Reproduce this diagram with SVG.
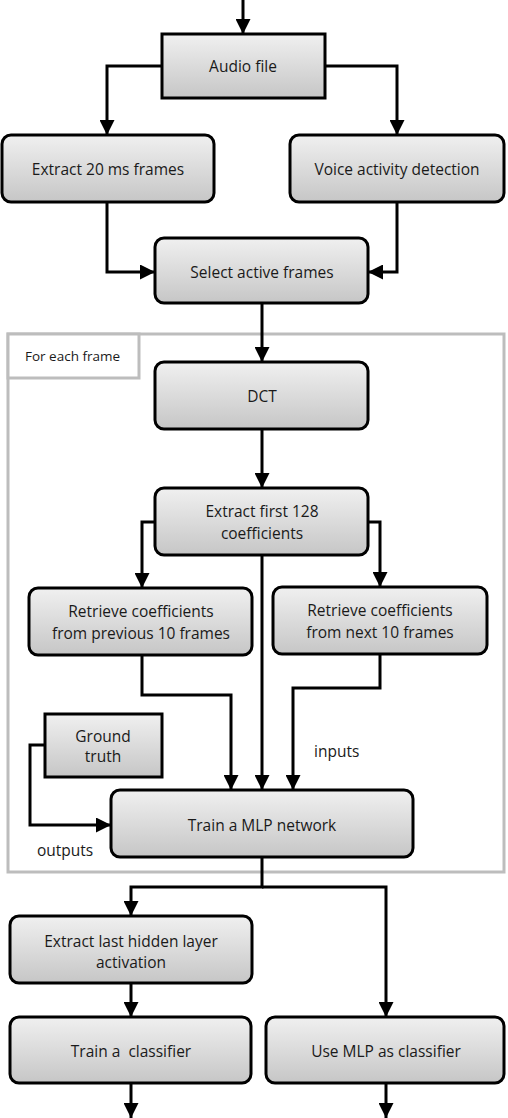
<svg xmlns="http://www.w3.org/2000/svg" width="508" height="1118" viewBox="0 0 508 1118">
<style>
.node{stroke:#000;stroke-width:3;fill:url(#g)}
.t{font-family:"Open Sans","Noto Sans",sans-serif;font-size:15.5px;fill:#1a1a1a;text-anchor:middle}
.lab{font-family:"Open Sans","Noto Sans",sans-serif;font-size:15.5px;fill:#1a1a1a}
.c{fill:none;stroke:#000;stroke-width:3}
</style>
<defs>
<linearGradient id="g" x1="0" y1="0" x2="0" y2="1">
<stop offset="0" stop-color="#f0f0f0"/>
<stop offset="1" stop-color="#c6c6c6"/>
</linearGradient>
<marker id="a" viewBox="0 0 10 10" refX="10" refY="5" markerWidth="5" markerHeight="5" orient="auto" markerUnits="strokeWidth">
<path d="M0,0 L10,5 L0,10 Z" fill="#000"/>
</marker>
</defs>
<g id="container">
<rect x="8" y="334" width="496" height="538" fill="#fff" stroke="#bdbdbd" stroke-width="3"/>
<rect x="8" y="334" width="131" height="44" fill="#fff" stroke="#bdbdbd" stroke-width="3"/>
<text class="lab" x="25" y="361" style="font-size:13.5px">For each frame</text>
</g>
<g id="connectors">
<path class="c" d="M243,0 V34" marker-end="url(#a)"/>
<path class="c" d="M162,66 H107 V135" marker-end="url(#a)"/>
<path class="c" d="M325,66 H397 V135" marker-end="url(#a)"/>
<path class="c" d="M107,202 V272 H155" marker-end="url(#a)"/>
<path class="c" d="M397,202 V272 H368" marker-end="url(#a)"/>
<path class="c" d="M262,303 V362" marker-end="url(#a)"/>
<path class="c" d="M262,429 V488" marker-end="url(#a)"/>
<path class="c" d="M155,522 H142 V588" marker-end="url(#a)"/>
<path class="c" d="M368,522 H380 V587" marker-end="url(#a)"/>
<path class="c" d="M262,555 V790" marker-end="url(#a)"/>
<path class="c" d="M142,656 V695 H231 V790" marker-end="url(#a)"/>
<path class="c" d="M380,655 V688 H293 V790" marker-end="url(#a)"/>
<path class="c" d="M45,745 H30 V825 H111" marker-end="url(#a)"/>
<path class="c" d="M262,857 V887 H131 V916" marker-end="url(#a)"/>
<path class="c" d="M262,887 H386 V1017" marker-end="url(#a)"/>
<path class="c" d="M131,983 V1017" marker-end="url(#a)"/>
<path class="c" d="M131,1083 V1118" marker-end="url(#a)"/>
<path class="c" d="M386,1083 V1118" marker-end="url(#a)"/>
</g>
<g id="audio"><rect class="node" x="162" y="34" width="163" height="64"/><text class="t" x="243" y="72">Audio file</text></g>
<g id="extract20"><rect class="node" x="2" y="135" width="212" height="67" rx="9"/><text class="t" x="108" y="175">Extract 20 ms frames</text></g>
<g id="vad"><rect class="node" x="290" y="135" width="214" height="67" rx="9"/><text class="t" x="397" y="175">Voice activity detection</text></g>
<g id="select"><rect class="node" x="155" y="238" width="213" height="65" rx="9"/><text class="t" x="262" y="278">Select active frames</text></g>
<g id="dct"><rect class="node" x="155" y="362" width="213" height="67" rx="9"/><text class="t" x="262" y="402">DCT</text></g>
<g id="extract128"><rect class="node" x="155" y="488" width="213" height="67" rx="9"/><text class="t" x="262" y="517">Extract first 128</text><text class="t" x="262" y="539">coefficients</text></g>
<g id="prev"><rect class="node" x="29" y="588" width="223" height="67" rx="9"/><text class="t" x="141" y="617">Retrieve coefficients</text><text class="t" x="141" y="639">from previous 10 frames</text></g>
<g id="next"><rect class="node" x="273" y="587" width="214" height="67" rx="9"/><text class="t" x="380" y="616">Retrieve coefficients</text><text class="t" x="380" y="638">from next 10 frames</text></g>
<g id="ground"><rect class="node" x="45" y="714" width="117" height="63"/><text class="t" x="103" y="742">Ground</text><text class="t" x="103" y="762">truth</text></g>
<g id="mlp"><rect class="node" x="111" y="790" width="302" height="67" rx="9"/><text class="t" x="262" y="831">Train a MLP network</text></g>
<text class="lab" x="314" y="757">inputs</text>
<text class="lab" x="37" y="856">outputs</text>
<g id="hidden"><rect class="node" x="10" y="916" width="242" height="67" rx="9"/><text class="t" x="131" y="947">Extract last hidden layer</text><text class="t" x="131" y="968">activation</text></g>
<g id="classifier"><rect class="node" x="10" y="1017" width="241" height="66" rx="9"/><text class="t" x="131" y="1057" xml:space="preserve">Train a  classifier</text></g>
<g id="usemlp"><rect class="node" x="266" y="1017" width="238" height="66" rx="9"/><text class="t" x="386" y="1057">Use MLP as classifier</text></g>
</svg>
